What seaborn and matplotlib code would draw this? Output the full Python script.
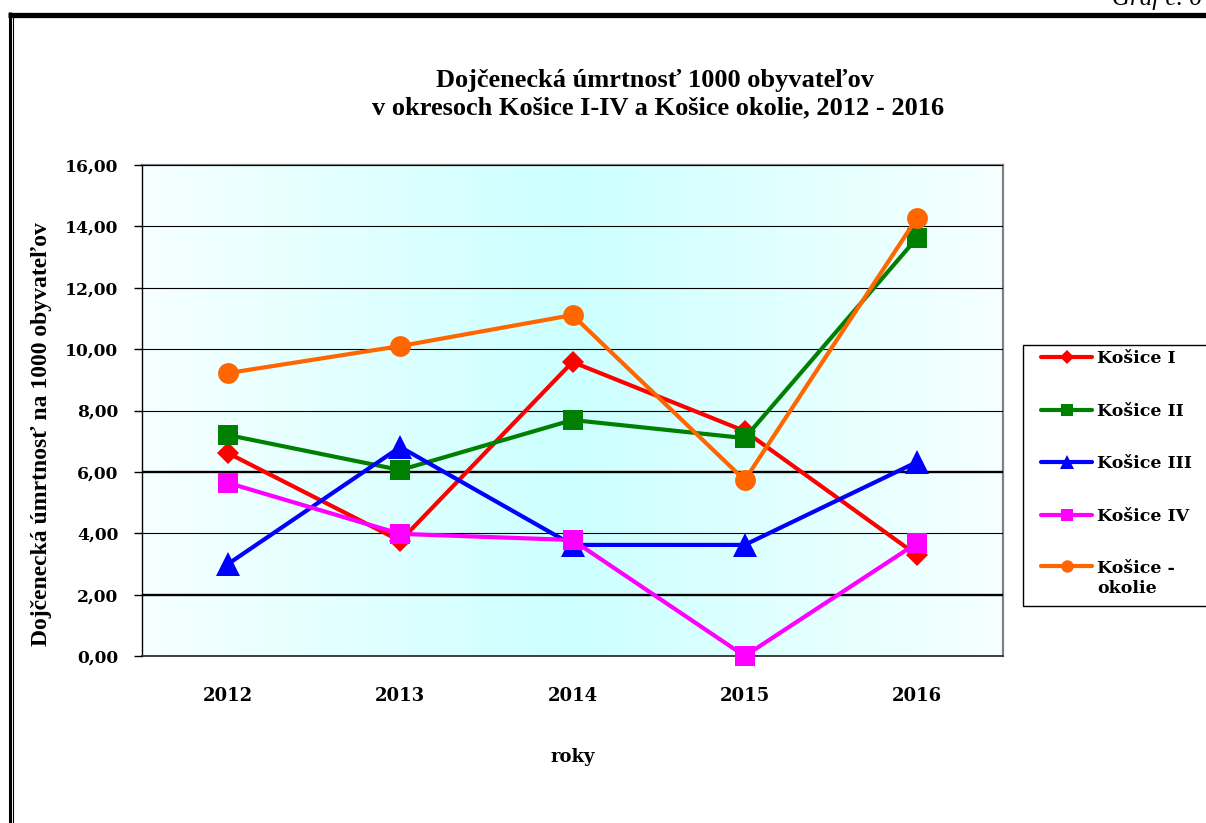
import numpy as np
import pandas as pd
import matplotlib
matplotlib.use("Agg")
import matplotlib.pyplot as plt
from matplotlib.lines import Line2D
from matplotlib.patches import Rectangle
from matplotlib.ticker import FuncFormatter, MultipleLocator
import seaborn as sns

# ---- data ----
years = [2012, 2013, 2014, 2015, 2016]
kosice_1 = [6.61, 3.75, 9.58, 7.33, 3.29]
kosice_2 = [7.20, 6.06, 7.69, 7.10, 13.62]
kosice_3 = [3.00, 6.81, 3.62, 3.62, 6.32]
kosice_4 = [5.64, 3.98, 3.78, 0.00, 3.68]
kosice_okolie = [9.22, 10.10, 11.11, 5.73, 14.27]
series_labels = ["Košice I", "Košice II", "Košice III", "Košice IV", "Košice -\nokolie"]
title_line1 = "Dojčenecká úmrtnosť 1000 obyvateľov"
title_line2 = "v okresoch Košice I-IV a Košice okolie, 2012 - 2016"
ylabel_text = "Dojčenecká úmrtnosť na 1000 obyvateľov"
xlabel_text = "roky"
corner_text = "Graf č. 6"

series_values = [kosice_1, kosice_2, kosice_3, kosice_4, kosice_okolie]
colors = ["#FF0000", "#008000", "#0000FF", "#FF00FF", "#FF6600"]
markers = ["D", "s", "^", "s", "o"]
msizes = [11, 15, 17, 15, 15]
leg_msizes = [7, 9, 10, 9, 9]

df = pd.DataFrame({
    "rok": np.tile(years, len(series_labels)),
    "hodnota": np.concatenate(series_values),
    "okres": np.repeat(series_labels, len(years)),
})

sns.set_style("white")
plt.rcParams["font.family"] = ["Liberation Serif", "DejaVu Serif"]
plt.rcParams["text.color"] = "black"
plt.rcParams["axes.labelcolor"] = "black"
plt.rcParams["xtick.color"] = "black"
plt.rcParams["ytick.color"] = "black"
plt.rcParams["legend.labelcolor"] = "black"

TICKFAMILY = "DejaVu Serif"

W, H = 1206, 823
fig = plt.figure(figsize=(W / 100, H / 100), dpi=100)
fig.patch.set_facecolor("white")
ax = fig.add_axes([142 / W, 1 - 656 / H, (1003 - 142) / W, (656 - 165) / H])

# gradient background
grad = np.linspace(0, 1, 400)
t = 1 - np.abs(grad - 0.5) * 2
base = np.array([0.965, 1.0, 1.0])
cyan = np.array([0.80, 1.0, 1.0])
img = base[None, :] * (1 - t[:, None]) + cyan[None, :] * t[:, None]
ax.imshow(img[None, :, :], aspect="auto", extent=(2011.5, 2016.5, 0, 16), zorder=0)

for lab, col, mk, ms in zip(series_labels, colors, markers, msizes):
    sub = df[df["okres"] == lab]
    sns.lineplot(data=sub, x="rok", y="hodnota", ax=ax, color=col, marker=mk,
                 markersize=ms, markeredgecolor=col, markeredgewidth=0,
                 linewidth=3.0, label=lab, zorder=3, clip_on=False)

ax.set_xlim(2011.5, 2016.5)
ax.set_ylim(0, 16)
ax.set_xticks(years)
ax.set_xticklabels([str(y) for y in years])
ax.yaxis.set_major_locator(MultipleLocator(2))
ax.yaxis.set_major_formatter(FuncFormatter(lambda v, p: f"{v:.2f}".replace(".", ",")))
ax.tick_params(axis="x", length=0, pad=22, labelcolor="black")
ax.tick_params(axis="y", length=6, width=1, color="black", direction="out", pad=11,
               left=True, labelcolor="black")
for lbl in ax.get_xticklabels():
    lbl.set_fontfamily(TICKFAMILY); lbl.set_fontweight("bold"); lbl.set_fontsize(13)
for lbl in ax.get_yticklabels():
    lbl.set_fontfamily(TICKFAMILY); lbl.set_fontweight("bold"); lbl.set_fontsize(12.3)

ax.grid(axis="y", color="black", linewidth=0.8, zorder=1)
ax.set_axisbelow(False)
for gl, v in zip(ax.get_ygridlines(), ax.get_yticks()):
    gl.set_zorder(1)
    if v in (2, 6):
        gl.set_linewidth(1.7)

for side in ["top", "right"]:
    ax.spines[side].set_color("#808080")
    ax.spines[side].set_linewidth(1.6)
ax.spines["left"].set_color("black")
ax.spines["left"].set_linewidth(1.0)
ax.spines["bottom"].set_color("#404040")
ax.spines["bottom"].set_linewidth(1.4)

ax.set_xlabel(xlabel_text, fontsize=13, fontweight="bold", family=TICKFAMILY,
              labelpad=31, color="black")
ax.set_ylabel(ylabel_text, fontsize=17, fontweight="bold", color="black")
ax.yaxis.set_label_coords(-0.104, 0.453)

fig.text(655 / W, 1 - 80 / H, title_line1, ha="center", va="center",
         fontsize=19, fontweight="bold", color="black")
fig.text(658 / W, 1 - 108 / H, title_line2, ha="center", va="center",
         fontsize=19, fontweight="bold", color="black")

# legend
leg = ax.legend(loc="upper left", bbox_to_anchor=(1041 / W, 1 - 350 / H),
                bbox_transform=fig.transFigure, frameon=False,
                labelspacing=2.05, handlelength=2.95, handletextpad=0.3,
                borderpad=0, borderaxespad=0, labelcolor="black",
                prop={"family": "DejaVu Serif", "weight": "bold", "size": 12.5})
for h, lms in zip(leg.legend_handles, leg_msizes):
    h.set_markersize(lms)
    h.set_linewidth(3.0)
# align the two-line entry's handle with its first line
last = leg.legend_handles[-1]
last.set_ydata(np.asarray(last.get_ydata()) + 9.5)

fig.add_artist(Rectangle((1023 / W, 1 - 606 / H), (1215 - 1023) / W, (606 - 345) / H,
                         transform=fig.transFigure, fill=False, edgecolor="black",
                         linewidth=1.0, clip_on=False))

# outer frame
fig.add_artist(Line2D([8 / W, 1.0], [1 - 14.5 / H] * 2, color="black", lw=3.8,
                      transform=fig.transFigure, solid_capstyle="butt"))
fig.add_artist(Line2D([9.5 / W] * 2, [0, 1 - 12 / H], color="black", lw=2.2,
                      transform=fig.transFigure, solid_capstyle="butt"))
fig.add_artist(Line2D([12.5 / W] * 2, [0, 1 - 16 / H], color="black", lw=0.8,
                      transform=fig.transFigure, solid_capstyle="butt"))
fig.text(1112 / W, 1 - 5.5 / H, corner_text, ha="left", va="baseline",
         fontsize=18, fontstyle="italic", color="black")

fig.savefig("out.png", dpi=100, facecolor="white")
